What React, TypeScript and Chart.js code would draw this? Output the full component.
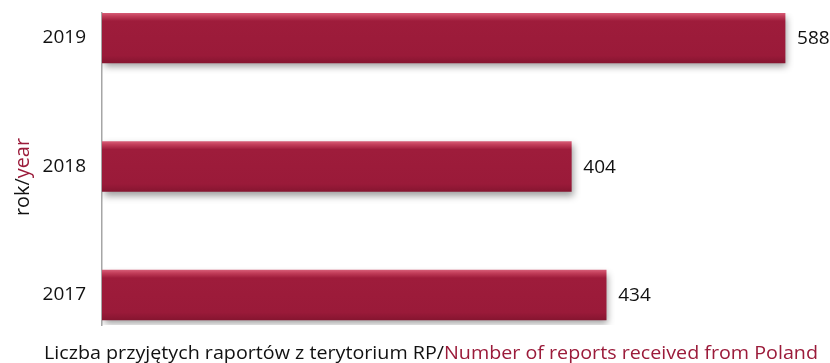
import React, { useEffect, useRef } from "react";
import { Chart, registerables } from "chart.js";

Chart.register(...registerables);

// Data (top to bottom)
const years: string[] = ["2019", "2018", "2017"];
const reports: number[] = [588, 404, 434];

const xTitlePl = "Liczba przyjętych raportów z terytorium RP/";
const xTitleEn = "Number of reports received from Poland";
const yTitlePl = "rok/";
const yTitleEn = "year";

const RED = "#9b1b3a";
const FONT = "'Open Sans', 'DejaVu Sans', sans-serif";

export default function App() {
  const ref = useRef<HTMLCanvasElement | null>(null);

  useEffect(() => {
    const canvas = ref.current;
    if (!canvas) return;

    const shadowPlugin = {
      id: "barShadow",
      beforeDatasetsDraw(chart: any) {
        const ctx = chart.ctx;
        ctx.save();
        ctx.shadowColor = "rgba(0,0,0,0.38)";
        ctx.shadowBlur = 7;
        ctx.shadowOffsetX = 2;
        ctx.shadowOffsetY = 4;
      },
      afterDatasetsDraw(chart: any) {
        const ctx = chart.ctx;
        ctx.restore();
        // value labels
        const meta = chart.getDatasetMeta(0);
        ctx.save();
        ctx.font = `19px ${FONT}`;
        ctx.fillStyle = "#111";
        ctx.textAlign = "left";
        ctx.textBaseline = "middle";
        meta.data.forEach((el: any, i: number) => {
          ctx.fillText(String(reports[i]), el.x + 12, el.y + 1);
        });
        ctx.restore();
      },
    };

    const titlesPlugin = {
      id: "titles",
      afterDraw(chart: any) {
        const ctx = chart.ctx;
        // x title
        ctx.save();
        ctx.font = `19px ${FONT}`;
        ctx.textBaseline = "alphabetic";
        ctx.textAlign = "left";
        const w1 = ctx.measureText(xTitlePl).width;
        const w2 = ctx.measureText(xTitleEn).width;
        const target = 774;
        const sx = target / (w1 + w2);
        ctx.translate(431 - target / 2, 359);
        ctx.scale(sx, 1);
        ctx.fillStyle = "#111";
        ctx.fillText(xTitlePl, 0, 0);
        ctx.fillStyle = RED;
        ctx.fillText(xTitleEn, w1, 0);
        ctx.restore();

        // y title
        ctx.save();
        ctx.font = `20px ${FONT}`;
        ctx.textBaseline = "middle";
        ctx.textAlign = "left";
        const v1 = ctx.measureText(yTitlePl).width;
        const v2 = ctx.measureText(yTitleEn).width;
        const vt = 78;
        ctx.translate(23, 177);
        ctx.rotate(-Math.PI / 2);
        ctx.scale(vt / (v1 + v2), 1);
        const st = -(v1 + v2) / 2;
        ctx.fillStyle = "#111";
        ctx.fillText(yTitlePl, st, 0);
        ctx.fillStyle = RED;
        ctx.fillText(yTitleEn, st + v1, 0);
        ctx.restore();
      },
    };

    const barFill = (c: any) => {
      const chart = c.chart;
      const ys = chart.scales && chart.scales.y;
      if (!ys || c.dataIndex === undefined) return RED;
      const yc = ys.getPixelForValue(c.dataIndex);
      if (!Number.isFinite(yc)) return RED;
      const g = chart.ctx.createLinearGradient(0, yc - 25, 0, yc + 25);
      g.addColorStop(0, "#d65c76");
      g.addColorStop(0.06, "#c23e5a");
      g.addColorStop(0.16, "#9e1c3b");
      g.addColorStop(0.85, "#9a1a39");
      g.addColorStop(1, "#861530");
      return g;
    };

    const chart = new Chart(canvas, {
      type: "bar",
      data: {
        datasets: [
          {
            data: reports.map((v, i) => ({ x: v, y: i })) as any,
            backgroundColor: barFill as any,
            borderWidth: 0,
            barThickness: 50,
          },
        ],
      },
      options: {
        indexAxis: "y",
        animation: false,
        responsive: false,
        maintainAspectRatio: false,
        layout: { padding: { top: 13, bottom: 38, left: 0, right: 31 } },
        plugins: {
          legend: { display: false },
          tooltip: { enabled: false },
        },
        scales: {
          x: {
            type: "linear",
            display: false,
            min: 0,
            max: 600,
          },
          y: {
            type: "linear",
            reverse: true,
            offset: false,
            bounds: "data",
            grace: 0,
            min: -0.1946,
            max: 2.2335,
            afterBuildTicks: (scale: any) => {
              scale.ticks = years.map((_, i) => ({ value: i }));
            },
            afterFit: (scale: any) => {
              scale.width = 102;
              scale.paddingTop = 0;
              scale.paddingBottom = 0;
            },
            grid: {
              display: true,
              offset: false,
              drawOnChartArea: false,
              drawTicks: false,
              color: "rgba(0,0,0,0)",
            },
            border: { display: true, color: "#a6a6a6", width: 1.5 },
            ticks: {
              padding: 16,
              color: "#111",
              font: { family: FONT, size: 19 },
              callback: (v: any) => years[Math.round(Number(v))] ?? "",
            },
          },
        },
      },
      plugins: [shadowPlugin, titlesPlugin],
    });

    return () => chart.destroy();
  }, []);

  return (
    <div style={{ position: "fixed", left: 0, top: 0, width: 830, height: 363, background: "#fff" }}>
      <canvas ref={ref} width={830} height={363} style={{ display: "block", width: 830, height: 363 }} />
    </div>
  );
}
